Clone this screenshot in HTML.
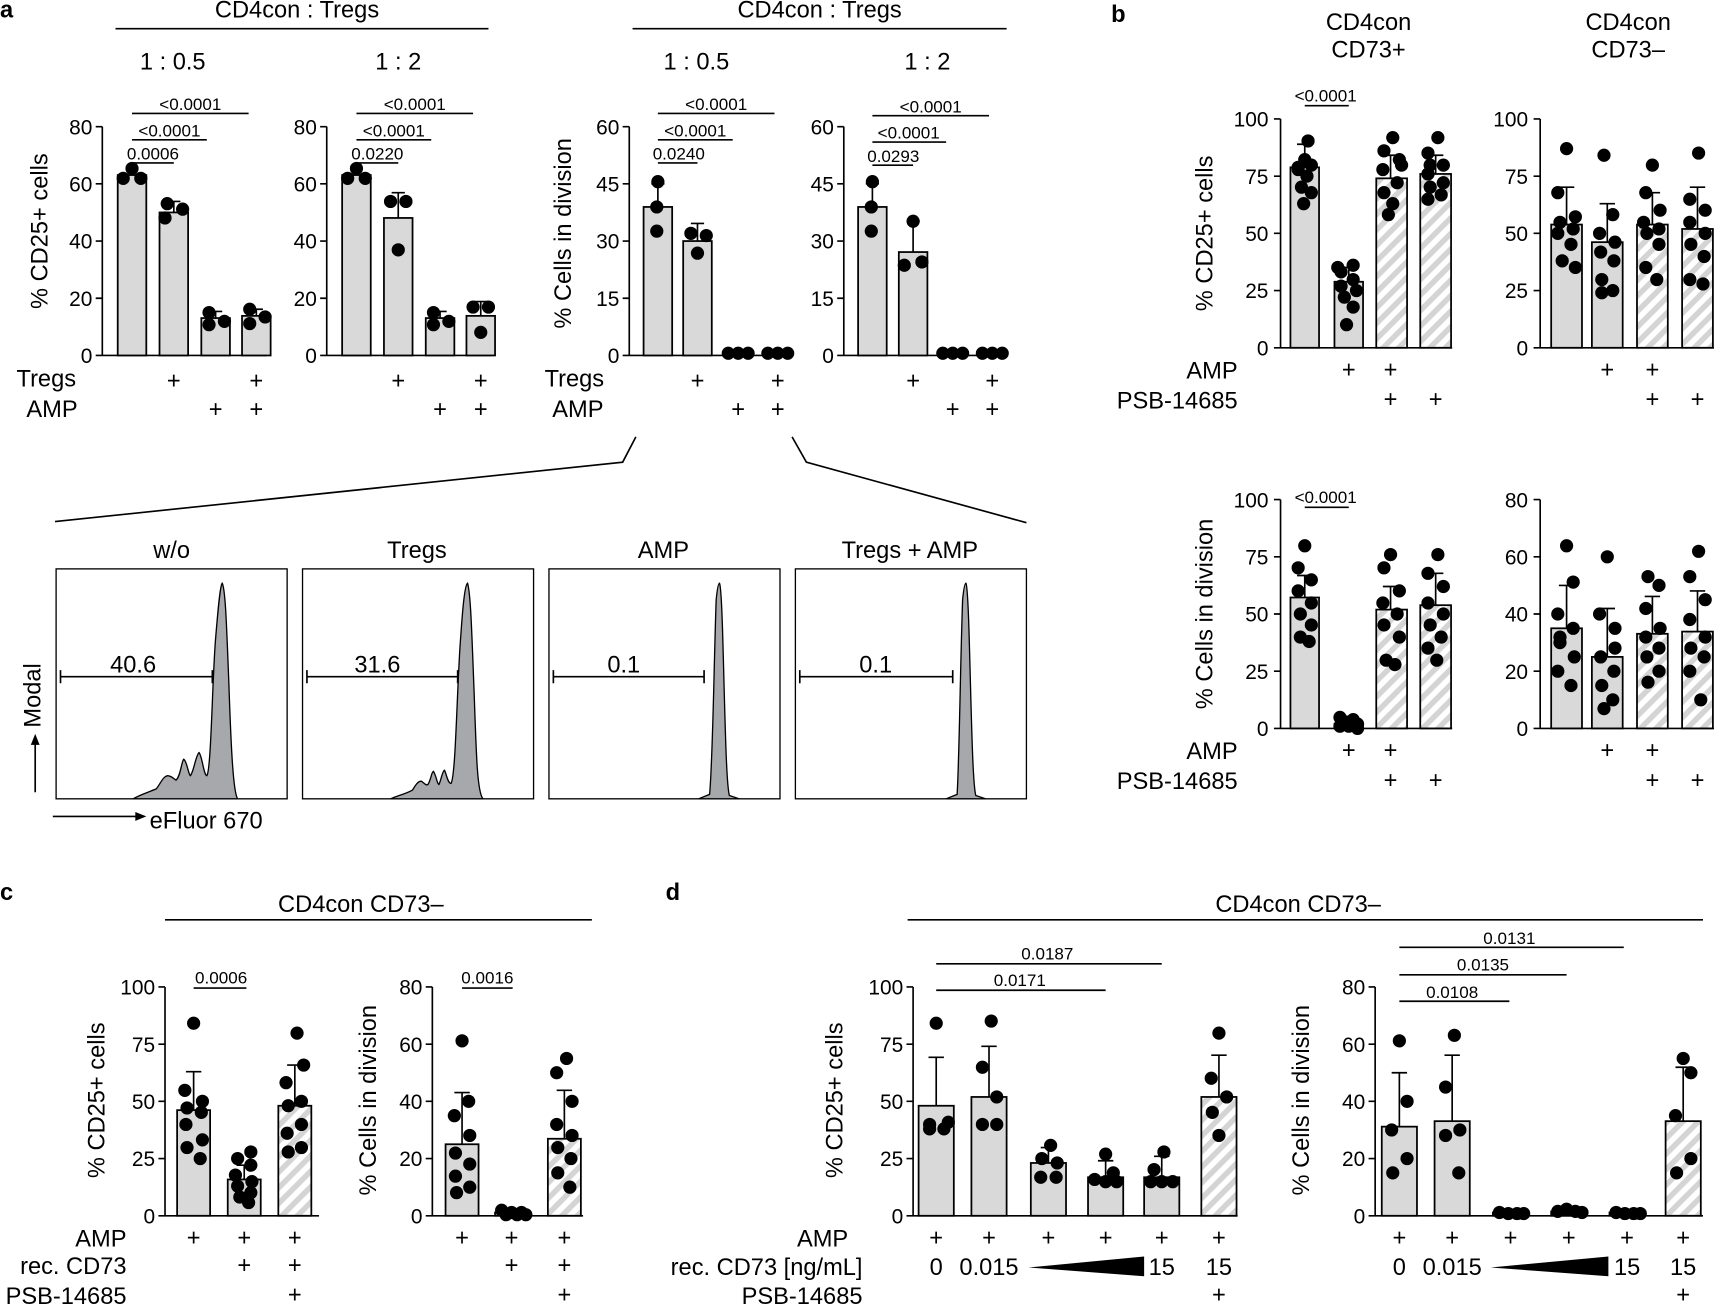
<!DOCTYPE html>
<html><head><meta charset="utf-8"><style>
html,body{margin:0;padding:0;background:#fff}
svg{display:block;font-family:"Liberation Sans",Arial,sans-serif}
.t{font-size:21.5px}
.k{font-size:19px}
.s{font-size:15.5px}
.b{fill:#d9d9d9;stroke:#000;stroke-width:1.6}
.h{fill:url(#hp);stroke:#000;stroke-width:1.6}
.l{stroke:#000;stroke-width:1.5;fill:none}
.d{fill:#000}
</style></head><body>
<svg width="1725" height="1305" viewBox="0 0 1568 1186" xmlns="http://www.w3.org/2000/svg">
<defs>
<pattern id="hp" patternUnits="userSpaceOnUse" width="10" height="10" patternTransform="rotate(45)">
<rect width="10" height="10" fill="#fff"/><rect width="5" height="10" fill="#d4d4d4"/>
</pattern>
</defs>
<g class="t">
<text x="0" y="16" font-weight="bold">a</text>
<text x="1010" y="20" font-weight="bold">b</text>
<text x="0" y="818" font-weight="bold">c</text>
<text x="605" y="818" font-weight="bold">d</text>
</g>

<!-- ===== Panel a headers ===== -->
<g class="t" text-anchor="middle">
<text x="270" y="16">CD4con : Tregs</text>
<text x="745" y="16">CD4con : Tregs</text>
<text x="157" y="63">1 : 0.5</text>
<text x="362" y="63">1 : 2</text>
<text x="633" y="63">1 : 0.5</text>
<text x="843" y="63">1 : 2</text>
</g>
<path class="l" d="M105 26H444M575 26H915"/>

<!-- a1 -->
<path class="l" d="M93 115V323H242M87 115H93M87 167H93M87 219H93M87 271H93M87 323H93"/>
<g class="k" text-anchor="end"><text x="84" y="122">80</text><text x="84" y="174">60</text><text x="84" y="226">40</text><text x="84" y="278">20</text><text x="84" y="330">0</text></g>
<text class="t" transform="translate(43,210) rotate(-90)" text-anchor="middle">% CD25+ cells</text>
<rect class="b" x="107" y="159" width="26" height="164"/><rect class="b" x="145" y="193" width="26" height="130"/><rect class="b" x="183" y="289" width="26" height="34"/><rect class="b" x="220" y="287" width="26" height="36"/>
<path class="l" d="M158 193V183M152 183H164M196 289V283M190 283H202M233 287V281M227 281H239"/>
<g class="d"><circle cx="112" cy="162" r="6"/><circle cx="120" cy="153" r="6"/><circle cx="128" cy="162" r="6"/><circle cx="152" cy="185" r="6"/><circle cx="150" cy="198" r="6"/><circle cx="166" cy="190" r="6"/><circle cx="190" cy="284" r="6"/><circle cx="190" cy="295" r="6"/><circle cx="204" cy="292" r="6"/><circle cx="227" cy="281" r="6"/><circle cx="227" cy="294" r="6"/><circle cx="241" cy="288" r="6"/></g>
<path class="l" d="M120 103H226M120 127H188M120 148H158"/>
<g class="s" text-anchor="middle"><text x="173" y="100">&lt;0.0001</text><text x="154" y="124">&lt;0.0001</text><text x="139" y="145">0.0006</text></g>
<!-- a2 -->
<path class="l" d="M297 115V323H446M291 115H297M291 167H297M291 219H297M291 271H297M291 323H297"/>
<g class="k" text-anchor="end"><text x="288" y="122">80</text><text x="288" y="174">60</text><text x="288" y="226">40</text><text x="288" y="278">20</text><text x="288" y="330">0</text></g>
<rect class="b" x="311" y="159" width="26" height="164"/><rect class="b" x="349" y="198" width="26" height="125"/><rect class="b" x="387" y="289" width="26" height="34"/><rect class="b" x="424" y="287" width="26" height="36"/>
<path class="l" d="M362 198V175M356 175H368M400 289V283M394 283H406M437 287V274M431 274H443"/>
<g class="d"><circle cx="316" cy="162" r="6"/><circle cx="324" cy="153" r="6"/><circle cx="332" cy="162" r="6"/><circle cx="355" cy="183" r="6"/><circle cx="369" cy="183" r="6"/><circle cx="362" cy="227" r="6"/><circle cx="394" cy="284" r="6"/><circle cx="394" cy="295" r="6"/><circle cx="408" cy="292" r="6"/><circle cx="430" cy="279" r="6"/><circle cx="444" cy="279" r="6"/><circle cx="437" cy="302" r="6"/></g>
<path class="l" d="M324 103H430M324 127H392M324 148H362"/>
<g class="s" text-anchor="middle"><text x="377" y="100">&lt;0.0001</text><text x="358" y="124">&lt;0.0001</text><text x="343" y="145">0.0220</text></g>
<g class="t"><text x="15" y="351">Tregs</text><text x="24" y="379">AMP</text></g>
<g class="t" text-anchor="middle"><text x="158" y="353">+</text><text x="233" y="353">+</text><text x="196" y="379">+</text><text x="233" y="379">+</text><text x="362" y="353">+</text><text x="437" y="353">+</text><text x="400" y="379">+</text><text x="437" y="379">+</text></g>

<!-- a3 -->
<path class="l" d="M572 115V323H720M566 115H572M566 167H572M566 219H572M566 271H572M566 323H572"/>
<g class="k" text-anchor="end"><text x="563" y="122">60</text><text x="563" y="174">45</text><text x="563" y="226">30</text><text x="563" y="278">15</text><text x="563" y="330">0</text></g>
<text class="t" transform="translate(519,212) rotate(-90)" text-anchor="middle">% Cells in division</text>
<rect class="b" x="585" y="188" width="26" height="135"/><rect class="b" x="621" y="219" width="26" height="104"/><rect class="b" x="658" y="321" width="26" height="2"/><rect class="b" x="694" y="321" width="26" height="2"/>
<path class="l" d="M598 188V167M592 167H604M634 219V203M628 203H640"/>
<g class="d"><circle cx="598" cy="165" r="6"/><circle cx="597" cy="188" r="6"/><circle cx="597" cy="210" r="6"/><circle cx="628" cy="212" r="6"/><circle cx="642" cy="214" r="6"/><circle cx="634" cy="230" r="6"/><circle cx="662" cy="321" r="6"/><circle cx="671" cy="321" r="6"/><circle cx="680" cy="321" r="6"/><circle cx="698" cy="321" r="6"/><circle cx="707" cy="321" r="6"/><circle cx="716" cy="321" r="6"/></g>
<path class="l" d="M598 103H704M598 127H666M598 148H634"/>
<g class="s" text-anchor="middle"><text x="651" y="100">&lt;0.0001</text><text x="632" y="124">&lt;0.0001</text><text x="617" y="145">0.0240</text></g>
<!-- a4 -->
<path class="l" d="M767 115V323H915M761 115H767M761 167H767M761 219H767M761 271H767M761 323H767"/>
<g class="k" text-anchor="end"><text x="758" y="122">60</text><text x="758" y="174">45</text><text x="758" y="226">30</text><text x="758" y="278">15</text><text x="758" y="330">0</text></g>
<rect class="b" x="780" y="188" width="26" height="135"/><rect class="b" x="817" y="229" width="26" height="94"/><rect class="b" x="853" y="321" width="26" height="2"/><rect class="b" x="889" y="321" width="26" height="2"/>
<path class="l" d="M793 188V167M787 167H799M830 229V201M824 201H836"/>
<g class="d"><circle cx="793" cy="165" r="6"/><circle cx="792" cy="188" r="6"/><circle cx="792" cy="210" r="6"/><circle cx="830" cy="201" r="6"/><circle cx="822" cy="241" r="6"/><circle cx="838" cy="238" r="6"/><circle cx="857" cy="321" r="6"/><circle cx="866" cy="321" r="6"/><circle cx="875" cy="321" r="6"/><circle cx="893" cy="321" r="6"/><circle cx="902" cy="321" r="6"/><circle cx="911" cy="321" r="6"/></g>
<path class="l" d="M793 105H899M793 129H860M793 150H830"/>
<g class="s" text-anchor="middle"><text x="846" y="102">&lt;0.0001</text><text x="826" y="126">&lt;0.0001</text><text x="812" y="147">0.0293</text></g>
<g class="t"><text x="495" y="351">Tregs</text><text x="502" y="379">AMP</text></g>
<g class="t" text-anchor="middle"><text x="634" y="353">+</text><text x="707" y="353">+</text><text x="671" y="379">+</text><text x="707" y="379">+</text><text x="830" y="353">+</text><text x="902" y="353">+</text><text x="866" y="379">+</text><text x="902" y="379">+</text></g>

<!-- zoom lines -->
<path class="l" stroke-width="1.2" d="M578 397L566 420L50 474M720 397L733 420L933 475"/>

<!-- histograms -->
<g class="t" text-anchor="middle"><text x="156" y="507">w/o</text><text x="379" y="507">Tregs</text><text x="603" y="507">AMP</text><text x="827" y="507">Tregs + AMP</text></g>
<g fill="none" stroke="#000" stroke-width="1.2">
<rect x="51" y="517" width="210" height="209"/><rect x="275" y="517" width="210" height="209"/><rect x="499" y="517" width="210" height="209"/><rect x="723" y="517" width="210" height="209"/>
</g>
<g fill="#a7a8ab" stroke="#000" stroke-width="1.2">
<path d="M121 726C128 722 135 720 142 717C146 712 148 706 152 705C156 705 158 708 160 709C164 706 165 692 167 690C170 692 171 703 173 705C176 702 178 686 181 684C184 688 185 704 188 705C192 700 193 615 196 580C198 556 200 532 202 530C205 536 206 570 208 620C210 680 212 720 216 726Z"/>
<path d="M355 726C362 723 370 721 375 718C378 713 380 710 383 710C386 712 387 714 389 713C392 708 392 702 394 701C397 706 397 712 399 713C401 709 402 701 404 700C406 704 407 712 410 712C414 705 415 640 418 590C420 560 422 532 425 530C428 540 429 580 431 630C433 690 434 720 439 726Z"/>
<path d="M635 726L645 722C648 690 649 600 651 545C652 535 653 530 654 530C655 532 656 545 657 580C659 650 660 712 663 723L672 726Z"/>
<path d="M860 726L870 722C872 690 873 600 875 545C876 535 877 530 878 530C879 532 880 545 881 580C883 650 884 712 887 723L896 726Z"/>
</g>
<g class="l" stroke-width="1.2"><path d="M55 615H193M55 609V621M193 609V621M279 615H416M279 609V621M416 609V621M503 615H640M503 609V621M640 609V621M727 615H866M727 609V621M866 609V621"/></g>
<g class="t" text-anchor="middle"><text x="121" y="611">40.6</text><text x="343" y="611">31.6</text><text x="567" y="611">0.1</text><text x="796" y="611">0.1</text></g>
<text class="t" transform="translate(37,632) rotate(-90)" text-anchor="middle">Modal</text>
<path class="l" stroke-width="1.2" d="M32 720V675M48 742H125"/>
<path d="M28 677L32 667L36 677Z M123 738L133 742L123 746Z"/>
<text class="t" x="136" y="753">eFluor 670</text>

<!-- ===== Panel b ===== -->
<g class="t" text-anchor="middle"><text x="1244" y="27">CD4con</text><text x="1244" y="52">CD73+</text><text x="1480" y="27">CD4con</text><text x="1480" y="52">CD73–</text></g>
<!-- b top 1 -->
<path class="l" d="M1164 108V316H1320M1158 108H1164M1158 160H1164M1158 212H1164M1158 264H1164M1158 316H1164"/>
<g class="k" text-anchor="end"><text x="1153" y="115">100</text><text x="1153" y="167">75</text><text x="1153" y="219">50</text><text x="1153" y="271">25</text><text x="1153" y="323">0</text></g>
<text class="t" transform="translate(1102,212) rotate(-90)" text-anchor="middle">% CD25+ cells</text>
<rect class="b" x="1173" y="152" width="26" height="164"/><rect class="b" x="1213" y="256" width="26" height="60"/><rect class="h" x="1251" y="162" width="28" height="154"/><rect class="h" x="1291" y="158" width="28" height="158"/>
<path class="l" d="M1186 152V131M1179 131H1193M1226 256V243M1219 243H1233M1264 162V141M1257 141H1271M1305 158V141M1298 141H1312"/>
<g class="d"><circle cx="1189" cy="128" r="6"/><circle cx="1186" cy="145" r="6"/><circle cx="1192" cy="150" r="6"/><circle cx="1180" cy="154" r="6"/><circle cx="1188" cy="160" r="6"/><circle cx="1183" cy="170" r="6"/><circle cx="1192" cy="175" r="6"/><circle cx="1185" cy="185" r="6"/><circle cx="1180" cy="152" r="6"/>
<circle cx="1230" cy="241" r="6"/><circle cx="1219" cy="247" r="6"/><circle cx="1230" cy="254" r="6"/><circle cx="1219" cy="260" r="6"/><circle cx="1233" cy="264" r="6"/><circle cx="1222" cy="270" r="6"/><circle cx="1230" cy="279" r="6"/><circle cx="1224" cy="295" r="6"/><circle cx="1216" cy="243" r="6"/>
<circle cx="1266" cy="125" r="6"/><circle cx="1258" cy="137" r="6"/><circle cx="1272" cy="145" r="6"/><circle cx="1257" cy="154" r="6"/><circle cx="1270" cy="166" r="6"/><circle cx="1258" cy="175" r="6"/><circle cx="1266" cy="185" r="6"/><circle cx="1262" cy="195" r="6"/><circle cx="1274" cy="150" r="6"/>
<circle cx="1307" cy="125" r="6"/><circle cx="1298" cy="139" r="6"/><circle cx="1312" cy="150" r="6"/><circle cx="1298" cy="158" r="6"/><circle cx="1312" cy="166" r="6"/><circle cx="1300" cy="170" r="6"/><circle cx="1310" cy="177" r="6"/><circle cx="1298" cy="181" r="6"/><circle cx="1300" cy="150" r="6"/></g>
<path class="l" d="M1186 96H1226"/><text class="s" x="1205" y="92" text-anchor="middle">&lt;0.0001</text>
<!-- b top 2 -->
<path class="l" d="M1400 108V316H1558M1394 108H1400M1394 160H1400M1394 212H1400M1394 264H1400M1394 316H1400"/>
<g class="k" text-anchor="end"><text x="1389" y="115">100</text><text x="1389" y="167">75</text><text x="1389" y="219">50</text><text x="1389" y="271">25</text><text x="1389" y="323">0</text></g>
<rect class="b" x="1410" y="204" width="28" height="112"/><rect class="b" x="1447" y="220" width="28" height="96"/><rect class="h" x="1488" y="204" width="28" height="112"/><rect class="h" x="1529" y="208" width="28" height="108"/>
<path class="l" d="M1424 204V170M1417 170H1431M1461 220V185M1454 185H1468M1502 204V175M1495 175H1509M1543 208V170M1536 170H1550"/>
<g class="d"><circle cx="1424" cy="135" r="6"/><circle cx="1416" cy="175" r="6"/><circle cx="1432" cy="197" r="6"/><circle cx="1418" cy="202" r="6"/><circle cx="1430" cy="208" r="6"/><circle cx="1416" cy="212" r="6"/><circle cx="1428" cy="222" r="6"/><circle cx="1420" cy="237" r="6"/><circle cx="1432" cy="243" r="6"/>
<circle cx="1458" cy="141" r="6"/><circle cx="1466" cy="195" r="6"/><circle cx="1454" cy="212" r="6"/><circle cx="1468" cy="220" r="6"/><circle cx="1455" cy="229" r="6"/><circle cx="1467" cy="237" r="6"/><circle cx="1456" cy="254" r="6"/><circle cx="1466" cy="264" r="6"/><circle cx="1456" cy="266" r="6"/>
<circle cx="1502" cy="150" r="6"/><circle cx="1496" cy="175" r="6"/><circle cx="1509" cy="191" r="6"/><circle cx="1494" cy="202" r="6"/><circle cx="1508" cy="208" r="6"/><circle cx="1497" cy="212" r="6"/><circle cx="1508" cy="222" r="6"/><circle cx="1496" cy="243" r="6"/><circle cx="1506" cy="254" r="6"/>
<circle cx="1544" cy="139" r="6"/><circle cx="1536" cy="181" r="6"/><circle cx="1550" cy="191" r="6"/><circle cx="1536" cy="202" r="6"/><circle cx="1550" cy="212" r="6"/><circle cx="1537" cy="222" r="6"/><circle cx="1549" cy="233" r="6"/><circle cx="1536" cy="254" r="6"/><circle cx="1548" cy="258" r="6"/></g>
<g class="t" text-anchor="end"><text x="1125" y="344">AMP</text><text x="1125" y="371">PSB-14685</text></g>
<g class="t" text-anchor="middle"><text x="1226" y="343">+</text><text x="1264" y="343">+</text><text x="1264" y="370">+</text><text x="1305" y="370">+</text><text x="1461" y="343">+</text><text x="1502" y="343">+</text><text x="1502" y="370">+</text><text x="1543" y="370">+</text></g>

<!-- b bottom 1 -->
<path class="l" d="M1164 454V662H1320M1158 454H1164M1158 506H1164M1158 558H1164M1158 610H1164M1158 662H1164"/>
<g class="k" text-anchor="end"><text x="1153" y="461">100</text><text x="1153" y="513">75</text><text x="1153" y="565">50</text><text x="1153" y="617">25</text><text x="1153" y="669">0</text></g>
<text class="t" transform="translate(1102,558) rotate(-90)" text-anchor="middle">% Cells in division</text>
<rect class="b" x="1173" y="543" width="26" height="119"/><rect class="b" x="1213" y="658" width="26" height="4"/><rect class="h" x="1251" y="554" width="28" height="108"/><rect class="h" x="1291" y="550" width="28" height="112"/>
<path class="l" d="M1186 543V523M1179 523H1193M1264 554V533M1257 533H1271M1305 550V521M1298 521H1312"/>
<g class="d"><circle cx="1186" cy="496" r="6"/><circle cx="1180" cy="516" r="6"/><circle cx="1192" cy="527" r="6"/><circle cx="1180" cy="537" r="6"/><circle cx="1192" cy="548" r="6"/><circle cx="1182" cy="558" r="6"/><circle cx="1192" cy="568" r="6"/><circle cx="1182" cy="579" r="6"/><circle cx="1190" cy="583" r="6"/>
<circle cx="1218" cy="652" r="6"/><circle cx="1230" cy="654" r="6"/><circle cx="1223" cy="656" r="6"/><circle cx="1234" cy="658" r="6"/><circle cx="1218" cy="660" r="6"/><circle cx="1226" cy="660" r="6"/><circle cx="1234" cy="662" r="6"/>
<circle cx="1264" cy="504" r="6"/><circle cx="1258" cy="516" r="6"/><circle cx="1272" cy="537" r="6"/><circle cx="1257" cy="548" r="6"/><circle cx="1270" cy="558" r="6"/><circle cx="1258" cy="568" r="6"/><circle cx="1272" cy="579" r="6"/><circle cx="1260" cy="600" r="6"/><circle cx="1268" cy="604" r="6"/>
<circle cx="1307" cy="504" r="6"/><circle cx="1298" cy="521" r="6"/><circle cx="1312" cy="533" r="6"/><circle cx="1298" cy="548" r="6"/><circle cx="1312" cy="558" r="6"/><circle cx="1300" cy="568" r="6"/><circle cx="1310" cy="579" r="6"/><circle cx="1298" cy="589" r="6"/><circle cx="1306" cy="600" r="6"/></g>
<path class="l" d="M1186 461H1226"/><text class="s" x="1205" y="457" text-anchor="middle">&lt;0.0001</text>
<!-- b bottom 2 -->
<path class="l" d="M1400 454V662H1558M1394 454H1400M1394 506H1400M1394 558H1400M1394 610H1400M1394 662H1400"/>
<g class="k" text-anchor="end"><text x="1389" y="461">80</text><text x="1389" y="513">60</text><text x="1389" y="565">40</text><text x="1389" y="617">20</text><text x="1389" y="669">0</text></g>
<rect class="b" x="1410" y="571" width="28" height="91"/><rect class="b" x="1447" y="597" width="28" height="65"/><rect class="h" x="1488" y="576" width="28" height="86"/><rect class="h" x="1529" y="574" width="28" height="88"/>
<path class="l" d="M1424 571V532M1417 532H1431M1461 597V553M1454 553H1468M1502 576V542M1495 542H1509M1543 574V537M1536 537H1550"/>
<g class="d"><circle cx="1424" cy="496" r="6"/><circle cx="1430" cy="529" r="6"/><circle cx="1416" cy="558" r="6"/><circle cx="1430" cy="571" r="6"/><circle cx="1418" cy="584" r="6"/><circle cx="1431" cy="597" r="6"/><circle cx="1416" cy="610" r="6"/><circle cx="1428" cy="623" r="6"/><circle cx="1418" cy="579" r="6"/>
<circle cx="1461" cy="506" r="6"/><circle cx="1454" cy="558" r="6"/><circle cx="1468" cy="571" r="6"/><circle cx="1455" cy="597" r="6"/><circle cx="1467" cy="610" r="6"/><circle cx="1456" cy="623" r="6"/><circle cx="1466" cy="636" r="6"/><circle cx="1458" cy="644" r="6"/><circle cx="1468" cy="589" r="6"/>
<circle cx="1498" cy="524" r="6"/><circle cx="1508" cy="532" r="6"/><circle cx="1496" cy="553" r="6"/><circle cx="1509" cy="571" r="6"/><circle cx="1496" cy="579" r="6"/><circle cx="1508" cy="589" r="6"/><circle cx="1497" cy="597" r="6"/><circle cx="1508" cy="610" r="6"/><circle cx="1498" cy="620" r="6"/>
<circle cx="1544" cy="501" r="6"/><circle cx="1536" cy="524" r="6"/><circle cx="1550" cy="545" r="6"/><circle cx="1536" cy="563" r="6"/><circle cx="1550" cy="579" r="6"/><circle cx="1537" cy="589" r="6"/><circle cx="1549" cy="597" r="6"/><circle cx="1536" cy="610" r="6"/><circle cx="1546" cy="636" r="6"/></g>
<g class="t" text-anchor="end"><text x="1125" y="690">AMP</text><text x="1125" y="717">PSB-14685</text></g>
<g class="t" text-anchor="middle"><text x="1226" y="689">+</text><text x="1264" y="689">+</text><text x="1264" y="716">+</text><text x="1305" y="716">+</text><text x="1461" y="689">+</text><text x="1502" y="689">+</text><text x="1502" y="716">+</text><text x="1543" y="716">+</text></g>

<!-- ===== Panel c ===== -->
<text class="t" x="328" y="829" text-anchor="middle">CD4con CD73–</text>
<path class="l" d="M150 836H538"/>
<path class="l" d="M150 897V1105H290M144 897H150M144 949H150M144 1001H150M144 1053H150M144 1105H150"/>
<g class="k" text-anchor="end"><text x="141" y="904">100</text><text x="141" y="956">75</text><text x="141" y="1008">50</text><text x="141" y="1060">25</text><text x="141" y="1112">0</text></g>
<text class="t" transform="translate(95,1000) rotate(-90)" text-anchor="middle">% CD25+ cells</text>
<rect class="b" x="161" y="1009" width="30" height="96"/><rect class="b" x="207" y="1072" width="30" height="33"/><rect class="h" x="253" y="1005" width="30" height="100"/>
<path class="l" d="M176 1009V974M169 974H183M222 1072V1059M215 1059H229M268 1005V968M261 968H275"/>
<g class="d"><circle cx="176" cy="930" r="6"/><circle cx="168" cy="991" r="6"/><circle cx="184" cy="1001" r="6"/><circle cx="170" cy="1007" r="6"/><circle cx="183" cy="1011" r="6"/><circle cx="169" cy="1022" r="6"/><circle cx="184" cy="1036" r="6"/><circle cx="170" cy="1043" r="6"/><circle cx="182" cy="1053" r="6"/>
<circle cx="228" cy="1047" r="6"/><circle cx="216" cy="1053" r="6"/><circle cx="228" cy="1059" r="6"/><circle cx="214" cy="1068" r="6"/><circle cx="229" cy="1074" r="6"/><circle cx="216" cy="1078" r="6"/><circle cx="228" cy="1084" r="6"/><circle cx="218" cy="1088" r="6"/><circle cx="226" cy="1093" r="6"/>
<circle cx="270" cy="939" r="6"/><circle cx="276" cy="968" r="6"/><circle cx="260" cy="984" r="6"/><circle cx="274" cy="1001" r="6"/><circle cx="262" cy="1005" r="6"/><circle cx="274" cy="1022" r="6"/><circle cx="261" cy="1030" r="6"/><circle cx="274" cy="1043" r="6"/><circle cx="262" cy="1047" r="6"/></g>
<path class="l" d="M176 898H224"/><text class="s" x="201" y="894" text-anchor="middle">0.0006</text>
<path class="l" d="M393 897V1105H530M387 897H393M387 949H393M387 1001H393M387 1053H393M387 1105H393"/>
<g class="k" text-anchor="end"><text x="384" y="904">80</text><text x="384" y="956">60</text><text x="384" y="1008">40</text><text x="384" y="1060">20</text><text x="384" y="1112">0</text></g>
<text class="t" transform="translate(342,1000) rotate(-90)" text-anchor="middle">% Cells in division</text>
<rect class="b" x="405" y="1040" width="30" height="65"/><rect class="b" x="450" y="1102" width="30" height="3"/><rect class="h" x="498" y="1035" width="30" height="70"/>
<path class="l" d="M420 1040V993M413 993H427M513 1035V991M506 991H520"/>
<g class="d"><circle cx="420" cy="946" r="6"/><circle cx="426" cy="1001" r="6"/><circle cx="413" cy="1014" r="6"/><circle cx="427" cy="1032" r="6"/><circle cx="414" cy="1048" r="6"/><circle cx="427" cy="1058" r="6"/><circle cx="414" cy="1069" r="6"/><circle cx="427" cy="1079" r="6"/><circle cx="415" cy="1084" r="6"/>
<circle cx="456" cy="1100" r="6"/><circle cx="465" cy="1102" r="6"/><circle cx="474" cy="1102" r="6"/><circle cx="460" cy="1104" r="6"/><circle cx="470" cy="1104" r="6"/><circle cx="478" cy="1104" r="6"/>
<circle cx="515" cy="962" r="6"/><circle cx="506" cy="975" r="6"/><circle cx="520" cy="1001" r="6"/><circle cx="506" cy="1022" r="6"/><circle cx="520" cy="1032" r="6"/><circle cx="507" cy="1043" r="6"/><circle cx="519" cy="1053" r="6"/><circle cx="507" cy="1066" r="6"/><circle cx="518" cy="1079" r="6"/></g>
<path class="l" d="M420 898H466"/><text class="s" x="443" y="894" text-anchor="middle">0.0016</text>
<g class="t" text-anchor="end"><text x="115" y="1133">AMP</text><text x="115" y="1158">rec. CD73</text><text x="115" y="1185">PSB-14685</text></g>
<g class="t" text-anchor="middle"><text x="176" y="1132">+</text><text x="222" y="1132">+</text><text x="268" y="1132">+</text><text x="222" y="1157">+</text><text x="268" y="1157">+</text><text x="268" y="1184">+</text>
<text x="420" y="1132">+</text><text x="465" y="1132">+</text><text x="513" y="1132">+</text><text x="465" y="1157">+</text><text x="513" y="1157">+</text><text x="513" y="1184">+</text></g>

<!-- ===== Panel d ===== -->
<text class="t" x="1180" y="829" text-anchor="middle">CD4con CD73–</text>
<path class="l" d="M825 836H1548"/>
<path class="l" d="M830 897V1105H1125M824 897H830M824 949H830M824 1001H830M824 1053H830M824 1105H830"/>
<g class="k" text-anchor="end"><text x="821" y="904">100</text><text x="821" y="956">75</text><text x="821" y="1008">50</text><text x="821" y="1060">25</text><text x="821" y="1112">0</text></g>
<text class="t" transform="translate(766,1000) rotate(-90)" text-anchor="middle">% CD25+ cells</text>
<rect class="b" x="835" y="1005" width="32" height="100"/><rect class="b" x="883" y="997" width="32" height="108"/><rect class="b" x="937" y="1057" width="32" height="48"/><rect class="b" x="989" y="1070" width="32" height="35"/><rect class="b" x="1040" y="1070" width="32" height="35"/><rect class="h" x="1092" y="997" width="32" height="108"/>
<path class="l" d="M851 1005V961M844 961H858M899 997V951M892 951H906M953 1057V1043M946 1043H960M1005 1070V1055M998 1055H1012M1056 1070V1051M1049 1051H1063M1108 997V959M1101 959H1115"/>
<g class="d"><circle cx="851" cy="930" r="6"/><circle cx="845" cy="1022" r="6"/><circle cx="858" cy="1026" r="6"/><circle cx="845" cy="1026" r="6"/><circle cx="862" cy="1020" r="6"/>
<circle cx="901" cy="928" r="6"/><circle cx="893" cy="970" r="6"/><circle cx="906" cy="997" r="6"/><circle cx="893" cy="1022" r="6"/><circle cx="906" cy="1022" r="6"/>
<circle cx="955" cy="1041" r="6"/><circle cx="947" cy="1053" r="6"/><circle cx="961" cy="1057" r="6"/><circle cx="946" cy="1070" r="6"/><circle cx="960" cy="1070" r="6"/>
<circle cx="1005" cy="1049" r="6"/><circle cx="995" cy="1072" r="6"/><circle cx="1005" cy="1074" r="6"/><circle cx="1015" cy="1074" r="6"/><circle cx="1012" cy="1066" r="6"/>
<circle cx="1058" cy="1047" r="6"/><circle cx="1049" cy="1063" r="6"/><circle cx="1046" cy="1074" r="6"/><circle cx="1056" cy="1074" r="6"/><circle cx="1066" cy="1074" r="6"/>
<circle cx="1108" cy="939" r="6"/><circle cx="1101" cy="980" r="6"/><circle cx="1115" cy="997" r="6"/><circle cx="1102" cy="1011" r="6"/><circle cx="1108" cy="1032" r="6"/></g>
<path class="l" d="M851 876H1056M851 900H1005"/>
<g class="s" text-anchor="middle"><text x="952" y="872">0.0187</text><text x="927" y="896">0.0171</text></g>

<path class="l" d="M1250 897V1105H1548M1244 897H1250M1244 949H1250M1244 1001H1250M1244 1053H1250M1244 1105H1250"/>
<g class="k" text-anchor="end"><text x="1241" y="904">80</text><text x="1241" y="956">60</text><text x="1241" y="1008">40</text><text x="1241" y="1060">20</text><text x="1241" y="1112">0</text></g>
<text class="t" transform="translate(1190,1000) rotate(-90)" text-anchor="middle">% Cells in division</text>
<rect class="b" x="1256" y="1024" width="32" height="81"/><rect class="b" x="1304" y="1019" width="32" height="86"/><rect class="b" x="1357" y="1102" width="32" height="3"/><rect class="b" x="1410" y="1101" width="32" height="4"/><rect class="b" x="1463" y="1102" width="32" height="3"/><rect class="h" x="1514" y="1019" width="32" height="86"/>
<path class="l" d="M1272 1024V975M1265 975H1279M1320 1019V959M1313 959H1327M1530 1019V970M1523 970H1537"/>
<g class="d"><circle cx="1272" cy="946" r="6"/><circle cx="1279" cy="1001" r="6"/><circle cx="1265" cy="1027" r="6"/><circle cx="1279" cy="1053" r="6"/><circle cx="1266" cy="1066" r="6"/>
<circle cx="1322" cy="941" r="6"/><circle cx="1314" cy="988" r="6"/><circle cx="1327" cy="1027" r="6"/><circle cx="1314" cy="1032" r="6"/><circle cx="1326" cy="1066" r="6"/>
<circle cx="1363" cy="1102" r="6"/><circle cx="1371" cy="1103" r="6"/><circle cx="1379" cy="1103" r="6"/><circle cx="1385" cy="1103" r="6"/>
<circle cx="1416" cy="1101" r="6"/><circle cx="1424" cy="1099" r="6"/><circle cx="1432" cy="1101" r="6"/><circle cx="1438" cy="1102" r="6"/>
<circle cx="1469" cy="1102" r="6"/><circle cx="1477" cy="1103" r="6"/><circle cx="1485" cy="1103" r="6"/><circle cx="1491" cy="1103" r="6"/>
<circle cx="1530" cy="962" r="6"/><circle cx="1537" cy="975" r="6"/><circle cx="1523" cy="1014" r="6"/><circle cx="1537" cy="1053" r="6"/><circle cx="1524" cy="1066" r="6"/></g>
<path class="l" d="M1272 861H1476M1272 886H1424M1272 910H1372"/>
<g class="s" text-anchor="middle"><text x="1372" y="858">0.0131</text><text x="1348" y="882">0.0135</text><text x="1320" y="907">0.0108</text></g>

<g class="t" text-anchor="end"><text x="771" y="1133">AMP</text><text x="784" y="1159">rec. CD73 [ng/mL]</text><text x="784" y="1185">PSB-14685</text></g>
<g class="t" text-anchor="middle">
<text x="851" y="1132">+</text><text x="899" y="1132">+</text><text x="953" y="1132">+</text><text x="1005" y="1132">+</text><text x="1056" y="1132">+</text><text x="1108" y="1132">+</text>
<text x="1272" y="1132">+</text><text x="1320" y="1132">+</text><text x="1373" y="1132">+</text><text x="1426" y="1132">+</text><text x="1479" y="1132">+</text><text x="1530" y="1132">+</text>
<text x="851" y="1159">0</text><text x="899" y="1159">0.015</text><text x="1056" y="1159">15</text><text x="1108" y="1159">15</text>
<text x="1272" y="1159">0</text><text x="1320" y="1159">0.015</text><text x="1479" y="1159">15</text><text x="1530" y="1159">15</text>
<text x="1108" y="1184">+</text><text x="1530" y="1184">+</text></g>
<path d="M935 1152L1040 1142V1160Z M1355 1152L1462 1142V1160Z"/>
</svg>
</body></html>
